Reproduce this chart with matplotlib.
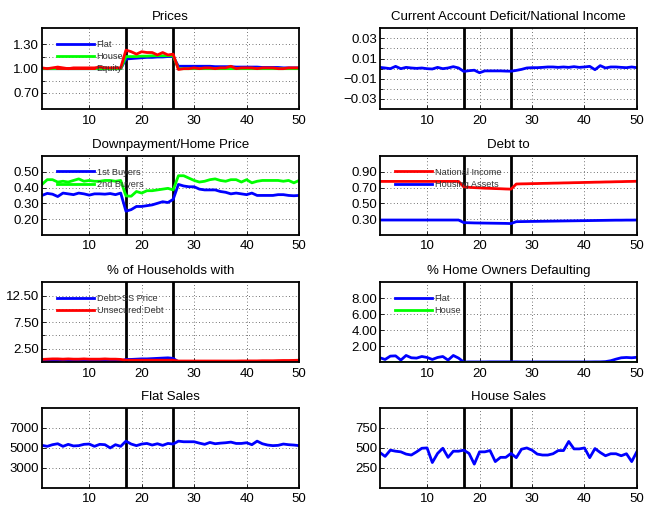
import matplotlib
matplotlib.use("Agg")
import matplotlib.pyplot as plt
from matplotlib.ticker import FixedLocator, FuncFormatter

plt.rcParams['font.family'] = ['Liberation Sans', 'DejaVu Sans']

t = list(range(1, 51))
breaks = [17, 26]

# Prices
price_flat = [1.00]*16 + [1.12, 1.125, 1.13, 1.135, 1.14, 1.14, 1.145, 1.145, 1.15, 1.15] + \
    [1.03, 1.03, 1.03, 1.03, 1.03, 1.03, 1.03, 1.025, 1.025, 1.025, 1.025, 1.02, 1.02, 1.02,
     1.02, 1.02, 1.015, 1.015, 1.015, 1.015, 1.01, 1.01, 1.01, 1.01]
price_house = [1.00]*16 + [1.15, 1.15, 1.15, 1.155, 1.155, 1.16, 1.16, 1.16, 1.16, 1.16] + [1.00]*24
price_equity = [1.01, 1.00, 1.01, 1.02, 1.01, 1.00, 1.01, 1.01, 1.01, 1.01, 1.01, 1.02, 1.01, 1.01, 1.01, 1.01,
                1.23, 1.21, 1.18, 1.21, 1.20, 1.20, 1.17, 1.20, 1.17, 1.18,
                0.99, 1.00, 1.00, 1.01, 1.00, 1.01, 1.01, 1.00, 1.01, 1.01, 1.03, 1.00, 1.01, 1.01,
                1.01, 1.00, 1.01, 1.01, 1.01, 1.00, 1.00, 1.01, 1.01, 1.01]

# Current account deficit / national income
ca_deficit = [0.0013, 0.0007, 0.0, 0.0023, 0.0, 0.0013, 0.0007, 0.0003, 0.0007, 0.0, -0.0003, 0.0013,
              0.0, 0.0007, 0.002, 0.0007,
              -0.0027, -0.002, -0.0015, -0.004, -0.0022, -0.0022, -0.0022, -0.0022, -0.0024, -0.0025,
              -0.0017, -0.0007, 0.0007, 0.001, 0.001, 0.0013, 0.0017, 0.0017, 0.0013, 0.0017, 0.0013,
              0.002, 0.0013, 0.0017, 0.0023, -0.001, 0.003, 0.0007, 0.0017, 0.0017, 0.0013, 0.001,
              0.0017, 0.001]

# Downpayment / home price
dp_first = [0.35, 0.363, 0.358, 0.343, 0.365, 0.36, 0.355, 0.365, 0.36, 0.352, 0.36, 0.36, 0.358, 0.362,
            0.355, 0.365,
            0.25, 0.26, 0.28, 0.28, 0.285, 0.29, 0.30, 0.31, 0.305, 0.325,
            0.42, 0.41, 0.405, 0.405, 0.39, 0.385, 0.385, 0.385, 0.375, 0.37, 0.36, 0.365, 0.36, 0.355,
            0.365, 0.35, 0.35, 0.35, 0.35, 0.355, 0.355, 0.35, 0.348, 0.35]
dp_second = [0.42, 0.45, 0.45, 0.435, 0.44, 0.435, 0.445, 0.455, 0.44, 0.445, 0.44, 0.44, 0.445, 0.445,
             0.44, 0.445,
             0.347, 0.345, 0.375, 0.365, 0.38, 0.38, 0.385, 0.39, 0.395, 0.385,
             0.475, 0.475, 0.46, 0.445, 0.435, 0.44, 0.45, 0.455, 0.445, 0.44, 0.45, 0.45, 0.435, 0.45,
             0.43, 0.44, 0.445, 0.445, 0.445, 0.445, 0.44, 0.445, 0.43, 0.445]

# Debt to
debt_ni = [0.778]*16 + [0.708, 0.703, 0.699, 0.696, 0.692, 0.69, 0.687, 0.685, 0.682, 0.68] + \
    [0.745, 0.747, 0.748, 0.75, 0.751, 0.753, 0.754, 0.756, 0.757, 0.759, 0.76, 0.762, 0.763, 0.765,
     0.766, 0.768, 0.769, 0.771, 0.772, 0.774, 0.775, 0.777, 0.778, 0.78]
debt_ha = [0.288]*16 + [0.255, 0.253, 0.251, 0.25, 0.249, 0.248, 0.247, 0.246, 0.245, 0.243] + \
    [0.267, 0.268, 0.269, 0.27, 0.271, 0.272, 0.273, 0.274, 0.275, 0.276, 0.277, 0.278, 0.279, 0.28,
     0.281, 0.282, 0.283, 0.284, 0.285, 0.286, 0.286, 0.287, 0.287, 0.288]

# % of households with
hh_debt_ss = [0.2, 0.2, 0.25, 0.3, 0.4, 0.3, 0.25, 0.3, 0.3, 0.25, 0.2, 0.25, 0.3, 0.3, 0.25, 0.2,
              0.5, 0.5, 0.55, 0.6, 0.6, 0.65, 0.7, 0.75, 0.8, 0.7] + [0.05]*24
hh_unsecured = [0.5, 0.55, 0.6, 0.6, 0.55, 0.6, 0.55, 0.55, 0.6, 0.55, 0.55, 0.55, 0.6, 0.55, 0.55, 0.5,
                0.35, 0.35, 0.35, 0.35, 0.35, 0.35, 0.35, 0.35, 0.35, 0.35,
                0.2, 0.2, 0.2, 0.2, 0.2, 0.2, 0.2, 0.2, 0.2, 0.2, 0.2, 0.2, 0.22, 0.22, 0.22, 0.22,
                0.25, 0.25, 0.25, 0.28, 0.3, 0.3, 0.32, 0.35]

# % home owners defaulting
def_flat = [0.54, 0.33, 0.75, 0.78, 0.25, 0.83, 0.54, 0.5, 0.7, 0.58, 0.33, 0.58, 0.7, 0.25, 0.83, 0.5,
            0.0, 0.02, 0.02, 0.02, 0.02, 0.03, 0.03, 0.03, 0.03, 0.03,
            0.03, 0.02, 0.02, 0.02, 0.02, 0.02, 0.02, 0.02, 0.02, 0.02, 0.02, 0.02, 0.02, 0.02,
            0.02, 0.03, 0.03, 0.06, 0.17, 0.37, 0.54, 0.58, 0.54, 0.6]
def_house = [0.0]*50

# Sales
flat_sales = [5260, 5160, 5325, 5420, 5160, 5360, 5200, 5230, 5360, 5390, 5160, 5360, 5325, 5000, 5325,
              5160, 5680, 5390, 5230, 5390, 5450, 5290, 5420, 5260, 5450, 5390, 5680, 5620, 5620, 5620,
              5480, 5360, 5550, 5420, 5480, 5520, 5585, 5450, 5450, 5520, 5325, 5680, 5420, 5290,
              5230, 5260, 5390, 5325, 5290, 5230]
house_sales = [443, 394, 472, 459, 451, 423, 411, 451, 496, 500, 317, 431, 496, 382, 459, 459, 472, 431,
               297, 451, 451, 467, 329, 382, 382, 431, 378, 484, 500, 472, 423, 411, 411, 427, 467,
               467, 581, 488, 488, 500, 378, 492, 443, 402, 427, 427, 402, 427, 329, 455]

BLUE = '#0000ff'
GREEN = '#00ff00'
RED = '#ff0000'

fig = plt.figure(figsize=(6.46, 5.05), dpi=100)

W = 0.398
lefts = [0.065, 0.588]
rows = [(0.784, 0.160), (0.535, 0.156), (0.283, 0.158), (0.034, 0.158)]


def fmt_factory(fmt):
    return FuncFormatter(lambda v, p: (fmt % v).replace('-', '\u2212'))


def make_ax(r, c, title, ylim, major, minor, fmt):
    b, h = rows[r]
    ax = fig.add_axes([lefts[c], b, W, h])
    ax.set_xlim(1, 50)
    ax.set_ylim(*ylim)
    ax.set_xticks([10, 20, 30, 40, 50])
    ax.yaxis.set_major_locator(FixedLocator(major))
    ax.yaxis.set_minor_locator(FixedLocator(minor))
    ax.yaxis.set_major_formatter(fmt_factory(fmt))
    ax.grid(True, which='both', linestyle=(0, (1, 3)), color='#444444', linewidth=0.6)
    ax.tick_params(which='both', direction='in', length=3, labelsize=9.5, width=0.6)
    ax.tick_params(which='minor', length=2)
    ax.tick_params(axis='y', pad=2)
    ax.tick_params(axis='x', pad=4)
    for s in ax.spines.values():
        s.set_linewidth(1.3)
    ax.set_title(title, fontsize=9.5, pad=6)
    for bx in breaks:
        ax.axvline(bx, color='black', linewidth=2)
    return ax


def leg(ax):
    lg = ax.legend(loc='upper left', bbox_to_anchor=(0.045, 0.90), frameon=False, fontsize=6.6,
                   handlelength=4.0, handletextpad=0.3, labelspacing=0.35, borderaxespad=0.0)
    for tx in lg.get_texts():
        tx.set_color('#333333')


ax = make_ax(0, 0, 'Prices', (0.5, 1.5), [0.7, 1.0, 1.3], [0.85, 1.15], '%.2f')
ax.plot(t, price_flat, color=BLUE, lw=2, label='Flat')
ax.plot(t, price_house, color=GREEN, lw=2, label='House')
ax.plot(t, price_equity, color=RED, lw=2, label='Equity')
leg(ax)

ax = make_ax(0, 1, 'Current Account Deficit/National Income', (-0.04, 0.04),
             [-0.03, -0.01, 0.01, 0.03], [-0.02, 0.0, 0.02], '%.2f')
ax.plot(t, ca_deficit, color=BLUE, lw=2)

ax = make_ax(1, 0, 'Downpayment/Home Price', (0.1, 0.6), [0.2, 0.3, 0.4, 0.5], [], '%.2f')
ax.plot(t, dp_first, color=BLUE, lw=2, label='1st Buyers')
ax.plot(t, dp_second, color=GREEN, lw=2, label='2nd Buyers')
leg(ax)

ax = make_ax(1, 1, 'Debt to', (0.1, 1.1), [0.3, 0.5, 0.7, 0.9], [], '%.2f')
ax.plot(t, debt_ni, color=RED, lw=2, label='National Income')
ax.plot(t, debt_ha, color=BLUE, lw=2, label='Housing Assets')
leg(ax)

ax = make_ax(2, 0, '% of Households with', (0, 15), [2.5, 7.5, 12.5], [5.0, 10.0], '%.2f')
ax.plot(t, hh_debt_ss, color=BLUE, lw=2, label='Debt>SS Price')
ax.plot(t, hh_unsecured, color=RED, lw=2, label='Unsecured Debt')
leg(ax)

ax = make_ax(2, 1, '% Home Owners Defaulting', (0, 10), [2, 4, 6, 8], [], '%.2f')
ax.plot(t, def_flat, color=BLUE, lw=2, label='Flat')
ax.plot(t, def_house, color=GREEN, lw=2, label='House')
leg(ax)

ax = make_ax(3, 0, 'Flat Sales', (1000, 9000), [3000, 5000, 7000], [], '%d')
ax.plot(t, flat_sales, color=BLUE, lw=2)

ax = make_ax(3, 1, 'House Sales', (0, 1000), [250, 500, 750], [], '%d')
ax.plot(t, house_sales, color=BLUE, lw=2)

fig.savefig('out.png', dpi=100)
